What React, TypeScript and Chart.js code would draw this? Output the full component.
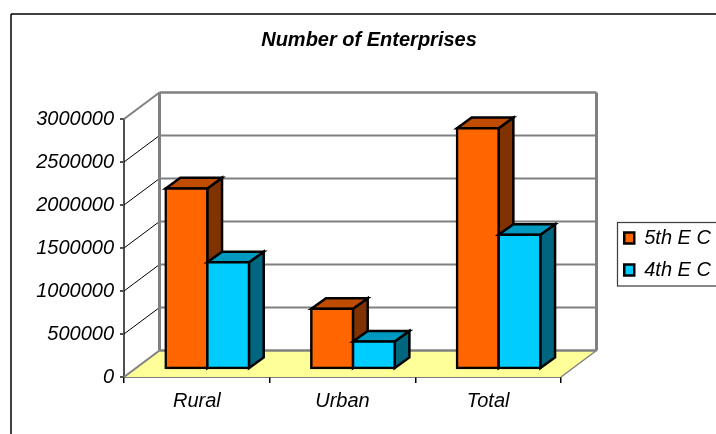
import React, { useEffect, useRef } from "react";
import { Chart, registerables } from "chart.js";

Chart.register(...registerables);

const categories = ["Rural", "Urban", "Total"];
const fifthEC = [2100000, 700000, 2800000];
const fourthEC = [1240000, 320000, 1560000];
const yTicks = { min: 0, max: 3000000, stepSize: 500000 };

const FONT = "'Liberation Sans', Arial, sans-serif";
const WALL = { dx: 35.5, dy: -26.5 };
const BAR_SHIFT = { dx: 10.5, dy: -8 };
const BAR_DEPTH = { dx: 14.7, dy: -10.6 };
const faceColors = [
  { top: "#BF4C00", side: "#803300" },
  { top: "#0099BF", side: "#006680" },
];

const poly = (ctx: CanvasRenderingContext2D, pts: number[][], fill: string | null, stroke: string | null, lw: number) => {
  ctx.beginPath();
  pts.forEach((p, i) => (i ? ctx.lineTo(p[0], p[1]) : ctx.moveTo(p[0], p[1])));
  ctx.closePath();
  if (fill) {
    ctx.fillStyle = fill;
    ctx.fill();
  }
  if (stroke) {
    ctx.strokeStyle = stroke;
    ctx.lineWidth = lw;
    ctx.lineJoin = "miter";
    ctx.stroke();
  }
};

const line = (ctx: CanvasRenderingContext2D, x1: number, y1: number, x2: number, y2: number, c: string, lw: number) => {
  ctx.beginPath();
  ctx.moveTo(x1, y1);
  ctx.lineTo(x2, y2);
  ctx.strokeStyle = c;
  ctx.lineWidth = lw;
  ctx.stroke();
};

const threeD = {
  id: "threeD",
  afterLayout(chart: any) {
    chart.titleBlock.left = 22;
    chart.titleBlock.right = 716;
    const lg = chart.legend;
    lg.left = 612.25;
    lg.right = 612.25 + lg.width;
    lg.top = 216;
    lg.bottom = 216 + lg.height;
  },
  beforeDraw(chart: any) {
    const { ctx, width, height } = chart;
    ctx.save();
    ctx.fillStyle = "#fff";
    ctx.fillRect(0, 0, width, height);
    line(ctx, 11, 14, 11, height, "#000", 1.5);
    line(ctx, 11, 14, width, 14, "#000", 1.5);
    ctx.restore();
  },
  beforeDatasetsDraw(chart: any) {
    const { ctx, chartArea: a, scales } = chart;
    const y = scales.y;
    const { dx, dy } = WALL;
    const y0 = y.getPixelForValue(0);
    const yMax = y.getPixelForValue(yTicks.max);
    ctx.save();
    // floor
    poly(ctx, [[a.left, y0], [a.right, y0], [a.right + dx, y0 + dy], [a.left + dx, y0 + dy]], "#FFFF99", null, 0);
    // back wall gridlines and their diagonals
    y.ticks.forEach((t: any) => {
      const py = y.getPixelForValue(t.value);
      const edge = t.value === yTicks.min || t.value === yTicks.max;
      line(ctx, a.left + dx, py + dy, a.right + dx, py + dy, "#808080", edge ? 2.5 : 2);
      line(ctx, a.left, py, a.left + dx, py + dy, edge ? "#808080" : "#000", edge ? 2 : 1);
    });
    line(ctx, a.left + dx, yMax + dy, a.left + dx, y0 + dy, "#808080", 3);
    line(ctx, a.right + dx, yMax + dy, a.right + dx, y0 + dy, "#808080", 3);
    line(ctx, a.right, y0, a.right + dx, y0 + dy, "#808080", 1.5);
    ctx.restore();

    // datasets painted first to last, so the second series overlaps the first
    const { dx: bx, dy: by } = BAR_DEPTH;
    chart.data.datasets.forEach((_: any, i: number) => {
      const meta = chart.getDatasetMeta(i);
      const c = faceColors[i];
      ctx.save();
      ctx.translate(BAR_SHIFT.dx, BAR_SHIFT.dy);
      meta.data.forEach((bar: any) => {
        const l = bar.x - bar.width / 2;
        const r = bar.x + bar.width / 2;
        const t = bar.y;
        const b = bar.base;
        poly(ctx, [[r, t], [r + bx, t + by], [r + bx, b + by], [r, b]], c.side, "#000", 2.5);
        poly(ctx, [[l, t], [l + bx, t + by], [r + bx, t + by], [r, t]], c.top, "#000", 2.5);
      });
      meta.controller.draw();
      ctx.restore();
    });
  },
  beforeDatasetDraw() {
    return false;
  },
  afterDraw(chart: any) {
    const { ctx } = chart;
    ctx.save();
    ctx.strokeStyle = "#404040";
    ctx.lineWidth = 1.25;
    ctx.strokeRect(617.5, 222.5, 110, 63.5);
    ctx.restore();
  },
};

export default function App() {
  const ref = useRef<HTMLCanvasElement>(null);
  useEffect(() => {
    document.body.style.margin = "0";
    const chart = new Chart(ref.current!, {
      type: "bar",
      data: {
        labels: categories,
        datasets: [
          {
            label: "5th E C",
            data: fifthEC,
            backgroundColor: "#FF6600",
            borderColor: "#000",
            borderWidth: 2.5,
            borderSkipped: false,
            inflateAmount: 1.25,
            categoryPercentage: 0.5725,
            barPercentage: 1,
          },
          {
            label: "4th E C",
            data: fourthEC,
            backgroundColor: "#00CCFF",
            borderColor: "#000",
            borderWidth: 2.5,
            borderSkipped: false,
            inflateAmount: 1.25,
            categoryPercentage: 0.5725,
            barPercentage: 1,
          },
        ],
      },
      options: {
        responsive: false,
        animation: false,
        devicePixelRatio: 1,
        layout: { padding: { left: 22, right: 155, top: 0, bottom: 0 } },
        plugins: {
          title: {
            display: true,
            text: "Number of Enterprises",
            color: "#000",
            font: { family: FONT, size: 20, style: "italic", weight: "bold" },
            padding: { top: 28, bottom: 67 },
          },
          legend: {
            display: true,
            position: "chartArea",
            align: "start",
            labels: {
              color: "#000",
              font: { family: FONT, size: 20, style: "italic" },
              boxWidth: 10,
              boxHeight: 11,
              padding: 12,
            },
          },
          tooltip: { enabled: false },
        },
        scales: {
          x: {
            type: "category",
            afterFit: (s: any) => {
              s.height = 57;
            },
            grid: { offset: true, drawOnChartArea: false, drawTicks: true, tickLength: 6, color: "#000", lineWidth: 1.5 },
            border: { color: "#000", width: 1.5 },
            ticks: { color: "#000", padding: 6, font: { family: FONT, size: 20, style: "italic" } },
          },
          y: {
            type: "linear",
            min: yTicks.min,
            max: yTicks.max,
            afterFit: (s: any) => {
              s.width = 102;
            },
            grid: { drawOnChartArea: false, drawTicks: true, tickLength: 4, color: "#505050", lineWidth: 2 },
            border: { color: "#505050", width: 2 },
            ticks: {
              stepSize: yTicks.stepSize,
              color: "#000",
              padding: 6,
              font: { family: FONT, size: 20, style: "italic" },
              callback: (v: any) => String(v),
            },
          },
        },
      },
      plugins: [threeD],
    } as any);
    return () => chart.destroy();
  }, []);
  return <canvas ref={ref} width={716} height={434} style={{ display: "block" }} />;
}
